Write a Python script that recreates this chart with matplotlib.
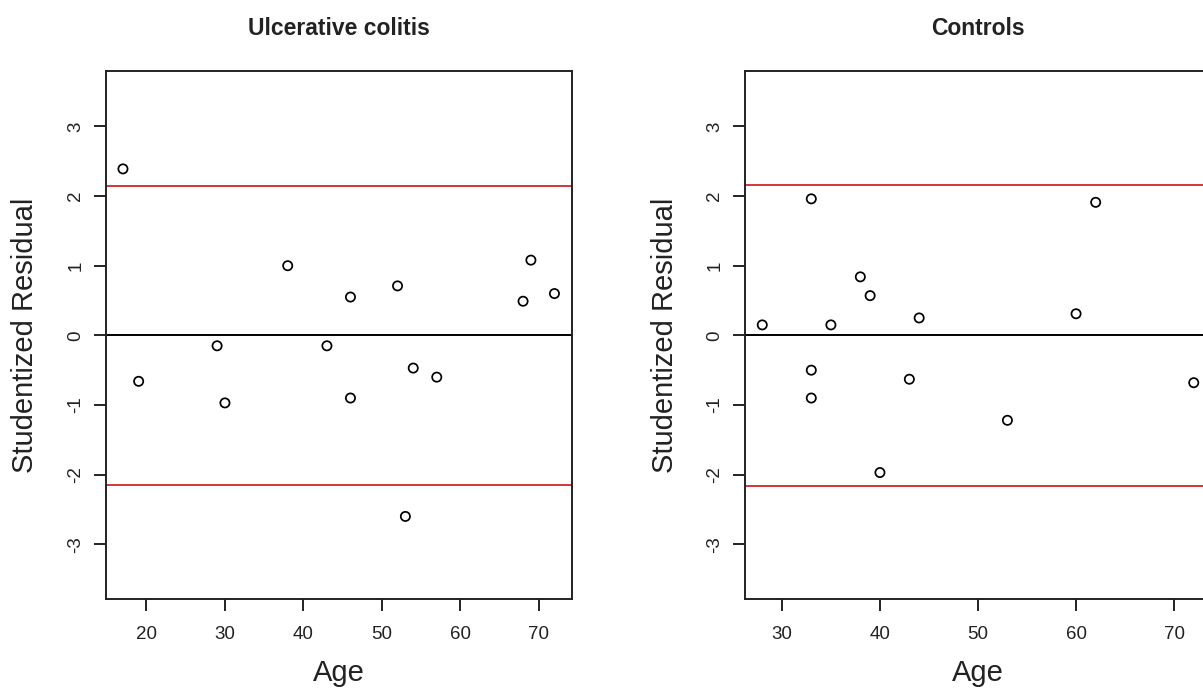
import numpy as np
import matplotlib.pyplot as plt

plt.rcParams['font.family'] = ['Liberation Sans', 'DejaVu Sans']

# Ulcerative colitis panel
uc_age = [17, 19, 29, 30, 38, 43, 46, 46, 52, 53, 54, 57, 68, 69, 72]
uc_resid = [2.39, -0.66, -0.15, -0.97, 1.00, -0.15, 0.55, -0.90, 0.71, -2.60,
            -0.47, -0.60, 0.49, 1.08, 0.60]
uc_limit = 2.145

# Controls panel
ct_age = [28, 33, 33, 33, 35, 38, 39, 40, 43, 44, 53, 60, 62, 72]
ct_resid = [0.15, 1.96, -0.50, -0.90, 0.15, 0.84, 0.57, -1.97, -0.63, 0.25,
            -1.22, 0.31, 1.91, -0.68]
ct_limit = 2.16

uc_xticks = [20, 30, 40, 50, 60, 70]
ct_xticks = [30, 40, 50, 60, 70]
yticks = [-3, -2, -1, 0, 1, 2, 3]

W, H = 1203, 693
fig = plt.figure(figsize=(W / 100, H / 100), dpi=100)

bottom = (H - 599.3) / H
height = (599.3 - 70.7) / H
width = 466 / W


def r_range(v):
    # R's default 4% padding
    lo, hi = min(v), max(v)
    d = (hi - lo) * 0.04
    return lo - d, hi + d


def panel(left, ages, resid, limit, xticks, title):
    ax = fig.add_axes([left / W, bottom, width, height])
    ax.scatter(ages, resid, s=44, facecolors='none', edgecolors='black',
               linewidths=1.25, zorder=3)
    ax.axhline(0, color='black', lw=1.4)
    ax.axhline(limit, color='#cc1414', lw=1.2)
    ax.axhline(-limit, color='#cc1414', lw=1.2)
    ax.set_xlim(*r_range(ages))
    ax.set_ylim(-3.79, 3.8)
    ax.set_xticks(xticks)
    ax.set_yticks(yticks)
    ax.set_yticklabels([str(t) for t in yticks], rotation=90, va='center')
    ax.tick_params(direction='out', length=8.5, width=1.4, labelsize=13.5,
                   colors='#222222')
    ax.tick_params(axis='x', pad=11)
    ax.tick_params(axis='y', pad=7)
    for s in ax.spines.values():
        s.set_linewidth(1.4)
        s.set_color('#222222')
    ax.set_xlabel('Age', fontsize=21, labelpad=11, color='#222222')
    ax.set_ylabel('Studentized Residual', fontsize=21, labelpad=20,
                  color='#222222')
    ax.set_title(title, fontsize=16.5, fontweight='bold', pad=26,
                 color='#222222')
    return ax


panel(105.7, uc_age, uc_resid, uc_limit, uc_xticks, 'Ulcerative colitis')
panel(745, ct_age, ct_resid, ct_limit, ct_xticks, 'Controls')

fig.savefig('out.png', dpi=100)
